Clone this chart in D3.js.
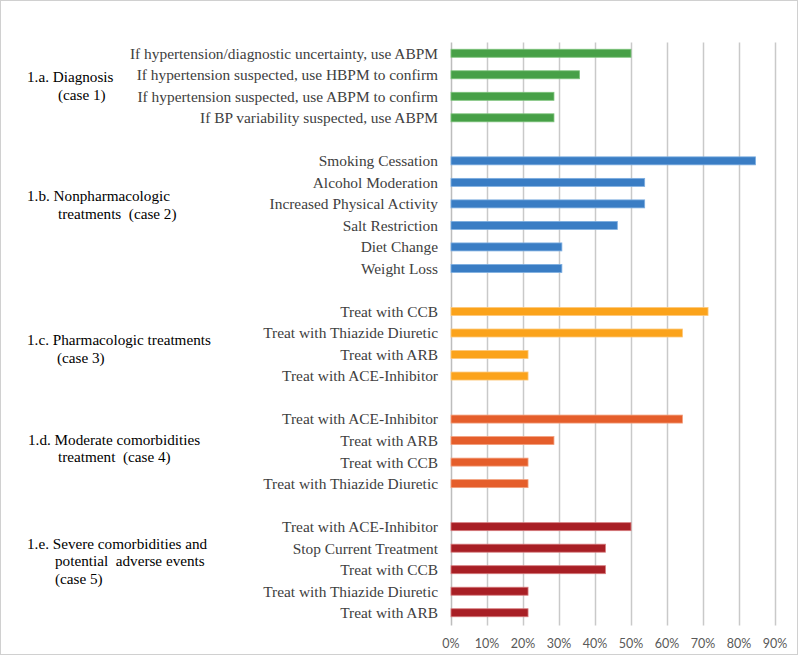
<!DOCTYPE html>
<html>
<head>
<meta charset="utf-8">
<script src="https://cdn.jsdelivr.net/npm/d3@7"></script>
<style>
  html, body { margin: 0; padding: 0; background: #fff; }
  svg { display: block; }
</style>
</head>
<body>
<svg id="chart" width="800" height="656"></svg>
<script>
// ---- data ----
const groupTitles = [
  ["1.a. Diagnosis", "(case 1)"],
  ["1.b. Nonpharmacologic", "treatments  (case 2)"],
  ["1.c. Pharmacologic treatments", "(case 3)"],
  ["1.d. Moderate comorbidities", "treatment  (case 4)"],
  ["1.e. Severe comorbidities and", "potential  adverse events", "(case 5)"]
];
const diagnosisLabels = [
  "If hypertension/diagnostic uncertainty, use ABPM",
  "If hypertension suspected, use HBPM to confirm",
  "If hypertension suspected, use ABPM to confirm",
  "If BP variability suspected, use ABPM"
];
const diagnosisValues = [50.0, 35.7, 28.6, 28.6];
const nonpharmLabels = [
  "Smoking Cessation", "Alcohol Moderation", "Increased Physical Activity",
  "Salt Restriction", "Diet Change", "Weight Loss"
];
const nonpharmValues = [84.6, 53.8, 53.8, 46.2, 30.8, 30.8];
const pharmLabels = [
  "Treat with CCB", "Treat with Thiazide Diuretic", "Treat with ARB", "Treat with ACE-Inhibitor"
];
const pharmValues = [71.4, 64.3, 21.4, 21.4];
const moderateLabels = [
  "Treat with ACE-Inhibitor", "Treat with ARB", "Treat with CCB", "Treat with Thiazide Diuretic"
];
const moderateValues = [64.3, 28.6, 21.4, 21.4];
const severeLabels = [
  "Treat with ACE-Inhibitor", "Stop Current Treatment", "Treat with CCB",
  "Treat with Thiazide Diuretic", "Treat with ARB"
];
const severeValues = [50.0, 42.9, 42.9, 21.4, 21.4];
const tickValues = [0, 10, 20, 30, 40, 50, 60, 70, 80, 90];

// ---- style ----
const groupColors = ["#47a047", "#3a7dc4", "#fba31b", "#e55e2b", "#a81f25"];
const groupStrokes = ["#7cc27a", "#7eaee0", "#fdc87a", "#f3a07e", "#d67a7c"];
const groupLabelDy = [0, -10, 5, -3, -9];
const groupLabelX = [[27, 58], [27, 58], [27, 57], [28, 58], [27, 55, 55]];

const groupLabels = [diagnosisLabels, nonpharmLabels, pharmLabels, moderateLabels, severeLabels];
const groupValues = [diagnosisValues, nonpharmValues, pharmValues, moderateValues, severeValues];

// build slot list (with blank spacer slots between groups)
const rows = [];
const slots = [];
const groupSlots = [];
groupLabels.forEach((labels, g) => {
  if (g > 0) slots.push("gap" + g);
  const ids = [];
  labels.forEach((lab, i) => {
    const id = "g" + g + "_" + i;
    slots.push(id); ids.push(id);
    rows.push({ id, g, label: lab, value: groupValues[g][i] });
  });
  groupSlots.push(ids);
});

const svg = d3.select("#chart");
const plot = { left: 451, right: 811, top: 42.5, bottom: 623.5 };

// outer border
svg.append("rect").attr("x", 0.5).attr("y", 0.5).attr("width", 797).attr("height", 654)
  .attr("fill", "#fff").attr("stroke", "#d0d0d0").attr("stroke-width", 1);

const x = d3.scaleLinear().domain([0, 100]).range([plot.left, plot.right]);
const y = d3.scaleBand().domain(slots).range([plot.top, plot.bottom]).paddingInner(0).paddingOuter(0);
const barH = 8;

// gridlines
svg.append("g").selectAll("line").data(tickValues).join("line")
  .attr("x1", d => Math.round(x(d)) + 0.5).attr("x2", d => Math.round(x(d)) + 0.5)
  .attr("y1", plot.top).attr("y2", plot.bottom + 2)
  .attr("stroke", d => d === 0 ? "#bdbdbd" : "#c9c9c9")
  .attr("stroke-width", 1.5);

// tick labels
svg.append("g").selectAll("text").data(tickValues).join("text")
  .attr("x", d => x(d)).attr("y", 648)
  .attr("text-anchor", "middle")
  .attr("font-family", "Lato, 'Open Sans', sans-serif")
  .attr("font-size", 12.5)
  .attr("fill", "#595959")
  .text(d => d + "%");

// bars
svg.append("g").selectAll("rect").data(rows).join("rect")
  .attr("x", x(0))
  .attr("y", d => y(d.id) + y.bandwidth() / 2 - barH / 2)
  .attr("width", d => x(d.value) - x(0))
  .attr("height", barH)
  .attr("fill", d => groupColors[d.g])
  .attr("stroke", d => groupStrokes[d.g])
  .attr("stroke-width", 0.8);

// category labels
svg.append("g").selectAll("text").data(rows).join("text")
  .attr("x", 438)
  .attr("y", d => y(d.id) + y.bandwidth() / 2)
  .attr("dy", "0.35em")
  .attr("text-anchor", "end")
  .attr("font-family", "'Liberation Serif', 'Times New Roman', serif")
  .attr("font-size", 15.4)
  .attr("fill", "#404040")
  .text(d => d.label);

// group labels
groupTitles.forEach((lines, g) => {
  const ids = groupSlots[g];
  const mid = (y(ids[0]) + y(ids[ids.length - 1]) + y.bandwidth()) / 2 + groupLabelDy[g];
  const lh = 17.5;
  const start = mid - (lines.length - 1) * lh / 2;
  const t = svg.append("text")
    .attr("font-family", "'Liberation Serif', 'Times New Roman', serif")
    .attr("font-size", 15.2)
    .attr("fill", "#000");
  lines.forEach((ln, i) => {
    t.append("tspan")
      .attr("x", groupLabelX[g][i])
      .attr("y", start + i * lh)
      .attr("dy", "0.35em")
      .attr("xml:space", "preserve")
      .style("white-space", "pre")
      .text(ln);
  });
});
</script>
</body>
</html>
